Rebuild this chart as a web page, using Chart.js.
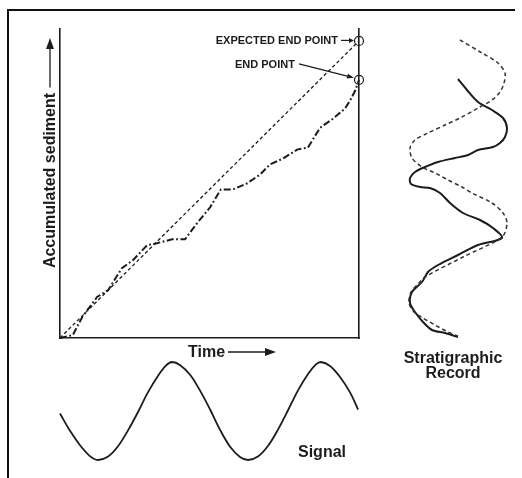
<!DOCTYPE html>
<html><head><meta charset="utf-8">
<script src="https://cdn.jsdelivr.net/npm/chart.js@4.4.1/dist/chart.umd.min.js"></script>
<style>
html,body{margin:0;padding:0;background:#fff;}
#wrap{position:relative;width:522px;height:478px;overflow:hidden;background:#fff;}
#frame{position:absolute;left:7px;top:9px;width:506px;height:480px;border-left:2px solid #111;border-top:2px solid #111;}
canvas{position:absolute;left:0;top:0;}
</style></head>
<body>
<div id="wrap">
<div id="frame"></div>
<canvas id="strat" width="522" height="478"></canvas>
<canvas id="signal" width="522" height="478"></canvas>
<canvas id="main" width="522" height="478"></canvas>
</div>
<script>
// ---- data ----
const expectedTime = [0, 10];
const expectedSediment = [0, 10];

const actualTime = [0, 0.43, 0.74, 1.24, 1.61, 2.07, 2.44, 2.91, 3.24, 3.75, 4.18, 4.58, 5.02, 5.38, 5.79, 6.25, 6.69, 7.02, 7.46, 7.93, 8.29, 8.70, 9.13, 9.53, 9.70, 9.87, 10];
const actualSediment = [0, 0.10, 0.70, 1.38, 1.61, 2.35, 2.62, 3.12, 3.19, 3.32, 3.32, 3.86, 4.40, 5.00, 5.00, 5.20, 5.50, 5.84, 6.04, 6.34, 6.41, 7.08, 7.38, 7.72, 7.99, 8.32, 8.69];

const endPointTime = [10, 10];
const endPointSediment = [10, 8.69];

const signalTime = [0, 0.33, 0.67, 1.00, 1.27, 1.61, 1.94, 2.27, 2.61, 2.94, 3.28, 3.55, 3.75, 4.01, 4.35, 4.68, 5.02, 5.35, 5.69, 6.02, 6.29, 6.62, 6.96, 7.29, 7.63, 7.96, 8.29, 8.56, 8.73, 9.03, 9.36, 9.70, 9.97];
const signalValue = [-0.05, -0.40, -0.70, -0.92, -1.0, -0.93, -0.72, -0.40, -0.02, 0.38, 0.72, 0.93, 1.0, 0.94, 0.74, 0.42, 0.03, -0.38, -0.73, -0.94, -1.0, -0.93, -0.71, -0.38, 0.02, 0.42, 0.75, 0.95, 1.0, 0.92, 0.70, 0.38, 0.03];

const recordDashedValue = [6.0, 8.2, 9.8, 10.5, 10.4, 10.0, 9.2, 7.8, 6.2, 4.5, 2.8, 1.5, 1.0, 1.2, 2.2, 3.5, 4.8, 6.2, 7.2, 9.2, 10.3, 10.7, 10.2, 6.3, 2.5, 1.8, 1.1, 0.9, 1.4, 2.3, 3.5, 4.8, 5.8];
const recordDashedHeight = [29.8, 28.5, 27.5, 26.5, 25.5, 24.6, 23.8, 23.0, 22.1, 21.3, 20.5, 19.8, 19.0, 18.0, 17.1, 16.5, 15.8, 15.1, 14.5, 13.5, 12.5, 11.5, 10.1, 8.1, 6.1, 5.4, 4.6, 3.5, 2.6, 2.0, 1.3, 0.6, 0.2];

const recordSolidValue = [5.8, 6.7, 7.8, 9.2, 10.3, 10.7, 10.5, 10.0, 9.3, 7.8, 6.8, 5.5, 3.8, 2.5, 1.5, 1.0, 1.1, 2.0, 3.0, 4.0, 5.0, 6.3, 8.0, 9.3, 10.2, 7.8, 5.8, 3.8, 2.8, 2.2, 1.2, 1.0, 1.5, 2.3, 3.2, 4.5, 5.8];
const recordSolidHeight = [25.9, 24.8, 23.6, 22.8, 22.0, 21.0, 20.1, 19.5, 19.1, 18.8, 18.3, 18.0, 17.6, 17.1, 16.6, 16.0, 15.4, 15.1, 15.0, 14.5, 13.5, 12.5, 11.8, 11.0, 10.0, 9.3, 8.3, 7.3, 6.6, 5.6, 4.6, 3.5, 2.6, 1.6, 0.8, 0.5, 0.1];

const yAxisTitle = 'Accumulated sediment';
const xAxisTitle = 'Time';
const expectedLabel = 'EXPECTED END POINT';
const endLabel = 'END POINT';
const signalLabel = 'Signal';
const recordLabel = ['Stratigraphic', 'Record'];

// ---- helpers ----
const INK = '#1c1c1c';
const FONT = '"Liberation Sans", Arial, Helvetica, sans-serif';
const zip = (xs, ys) => xs.map((x, i) => ({x: x, y: ys[i]}));

function arrow(ctx, x1, y1, x2, y2, head, half, lw) {
  const a = Math.atan2(y2 - y1, x2 - x1);
  const bx = x2 - head * Math.cos(a), by = y2 - head * Math.sin(a);
  ctx.save();
  ctx.strokeStyle = INK; ctx.fillStyle = INK; ctx.lineWidth = lw;
  ctx.beginPath(); ctx.moveTo(x1, y1); ctx.lineTo(bx, by); ctx.stroke();
  ctx.beginPath();
  ctx.moveTo(x2, y2);
  ctx.lineTo(bx + half * Math.sin(a), by - half * Math.cos(a));
  ctx.lineTo(bx - half * Math.sin(a), by + half * Math.cos(a));
  ctx.closePath(); ctx.fill();
  ctx.restore();
}

const hiddenScale = (min, max) => ({type: 'linear', display: false, min: min, max: max});
const axisScale = (min, max, pos) => ({
  type: 'linear', position: pos, min: min, max: max,
  grid: {display: false, drawTicks: false},
  ticks: {display: false},
  border: {display: true, color: INK, width: 1.6}
});
const baseOpts = (padding, scales) => ({
  responsive: false, animation: false, events: [],
  layout: {padding: padding, autoPadding: false},
  plugins: {legend: {display: false}, tooltip: {enabled: false}},
  scales: scales
});

// ---- main accumulation plot ----
const mainAnnotations = {
  id: 'mainAnnotations',
  afterDraw(chart) {
    const ctx = chart.ctx, xs = chart.scales.x, ys = chart.scales.y, area = chart.chartArea;
    const ex = xs.getPixelForValue(endPointTime[0]), ey = ys.getPixelForValue(endPointSediment[0]);
    const fx = xs.getPixelForValue(endPointTime[1]), fy = ys.getPixelForValue(endPointSediment[1]);
    ctx.save();
    ctx.fillStyle = INK;
    // point labels
    ctx.font = 'bold 11px ' + FONT;
    ctx.textAlign = 'right'; ctx.textBaseline = 'alphabetic';
    ctx.fillText(expectedLabel, ex - 21, ey + 3.5);
    arrow(ctx, ex - 18, ey - 0.5, ex - 5, ey - 0.5, 5, 2.5, 1.2);
    ctx.textAlign = 'left';
    ctx.fillText(endLabel, fx - 124, fy - 12);
    arrow(ctx, fx - 60, fy - 16, fx - 5, fy - 2, 7, 2.5, 1.3);
    // y title
    ctx.font = 'bold 16px ' + FONT;
    ctx.save();
    const cy = (area.top + area.bottom) / 2 - 3;
    ctx.translate(area.left - 9, cy);
    ctx.rotate(-Math.PI / 2);
    ctx.textAlign = 'center'; ctx.textBaseline = 'middle';
    ctx.fillText(yAxisTitle, 0, 0);
    ctx.restore();
    arrow(ctx, area.left - 10, cy - 93, area.left - 10, area.top + 9, 11, 4, 1.3);
    // x title
    ctx.textAlign = 'left'; ctx.textBaseline = 'alphabetic';
    ctx.fillText(xAxisTitle, area.left + 128, area.bottom + 19);
    arrow(ctx, area.left + 168, area.bottom + 14, area.left + 216, area.bottom + 14, 11, 4, 1.4);
    ctx.restore();
  }
};

new Chart(document.getElementById('main'), {
  type: 'scatter',
  data: {datasets: [
    {label: 'Expected', data: zip(expectedTime, expectedSediment), showLine: true, borderColor: INK, borderWidth: 1.3, borderDash: [3.5, 2.5], pointRadius: 0, clip: false},
    {label: 'Actual', data: zip(actualTime, actualSediment), showLine: true, borderColor: INK, borderWidth: 2, borderDash: [7, 2.5, 1.8, 2.5], pointRadius: 0, clip: false},
    {label: 'End points', data: zip(endPointTime, endPointSediment), showLine: false, pointRadius: 4.5, pointBorderWidth: 1.2, pointBorderColor: INK, pointBackgroundColor: 'rgba(0,0,0,0)', clip: false}
  ]},
  options: baseOpts({left: 60, right: 163, top: 29, bottom: 140}, {
    x: axisScale(0, 10, 'bottom'),
    y: axisScale(0, 10.4, 'left'),
    y2: axisScale(0, 10.4, 'right')
  }),
  plugins: [mainAnnotations]
});

// ---- signal ----
const signalAnnotations = {
  id: 'signalAnnotations',
  afterDraw(chart) {
    const ctx = chart.ctx, area = chart.chartArea;
    ctx.save();
    ctx.fillStyle = INK;
    ctx.font = 'bold 16px ' + FONT;
    ctx.textAlign = 'center'; ctx.textBaseline = 'alphabetic';
    ctx.fillText(signalLabel, area.left + 262, area.bottom - 3);
    ctx.restore();
  }
};
new Chart(document.getElementById('signal'), {
  type: 'scatter',
  data: {datasets: [
    {label: 'Signal', data: zip(signalTime, signalValue), showLine: true, borderColor: INK, borderWidth: 1.8, pointRadius: 0, tension: 0.35, clip: false}
  ]},
  options: baseOpts({left: 60, right: 163, top: 362, bottom: 18}, {
    x: hiddenScale(0, 10),
    y: hiddenScale(-1, 1)
  }),
  plugins: [signalAnnotations]
});

// ---- stratigraphic record ----
const stratAnnotations = {
  id: 'stratAnnotations',
  afterDraw(chart) {
    const ctx = chart.ctx, area = chart.chartArea;
    ctx.save();
    ctx.fillStyle = INK;
    ctx.font = 'bold 16px ' + FONT;
    ctx.textAlign = 'center'; ctx.textBaseline = 'alphabetic';
    const cx = (area.left + area.right) / 2 - 2;
    ctx.fillText(recordLabel[0], cx, area.bottom + 25);
    ctx.fillText(recordLabel[1], cx, area.bottom + 40);
    ctx.restore();
  }
};
new Chart(document.getElementById('strat'), {
  type: 'scatter',
  data: {datasets: [
    {label: 'Dashed', data: zip(recordDashedValue, recordDashedHeight), showLine: true, borderColor: '#333', borderWidth: 1.5, borderDash: [4, 3], pointRadius: 0, tension: 0.3, clip: false},
    {label: 'Solid', data: zip(recordSolidValue, recordSolidHeight), showLine: true, borderColor: INK, borderWidth: 2, pointRadius: 0, tension: 0.3, clip: false}
  ]},
  options: baseOpts({left: 400, right: 12, top: 38, bottom: 140}, {
    x: hiddenScale(0, 11),
    y: hiddenScale(0, 30)
  }),
  plugins: [stratAnnotations]
});
</script>
</body></html>
